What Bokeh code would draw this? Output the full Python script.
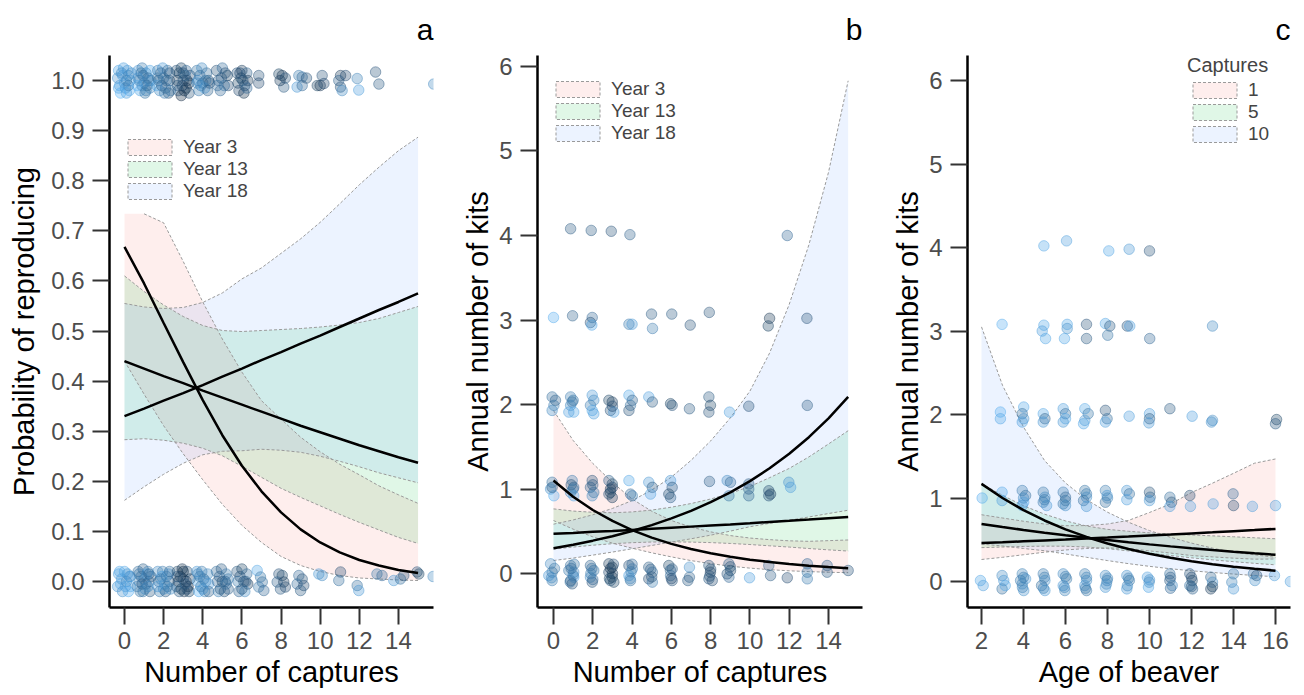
from bokeh.plotting import figure
from bokeh.models import (Range1d, FixedTicker, PrintfTickFormatter, Legend,
                          LegendItem, ColumnDataSource)
from bokeh.layouts import row
from bokeh.embed import file_html
from bokeh.resources import INLINE

FONT = "Liberation Sans"
PINK, GREEN, BLUE = "#F8766D", "#00BA38", "#619CFF"

# ---------------- panel a : probability of reproducing ----------------
a_x = [0, 1, 2, 3, 4, 5, 6, 7, 8, 9, 10, 11, 12, 13, 14, 15]
a_fit_y3 = [0.668, 0.595, 0.516, 0.438, 0.362, 0.292, 0.231, 0.180, 0.138, 0.104, 0.078, 0.058, 0.043, 0.032, 0.023, 0.017]
a_lo_y3 = [0.440, 0.374, 0.311, 0.255, 0.203, 0.154, 0.112, 0.078, 0.050, 0.032, 0.020, 0.012, 0.007, 0.005, 0.003, 0.002]
a_hi_y3 = [0.734, 0.734, 0.716, 0.639, 0.558, 0.484, 0.418, 0.361, 0.324, 0.288, 0.259, 0.234, 0.213, 0.191, 0.173, 0.156]
a_fit_y13 = [0.440, 0.425, 0.410, 0.396, 0.381, 0.367, 0.353, 0.339, 0.325, 0.311, 0.298, 0.285, 0.272, 0.260, 0.248, 0.237]
a_lo_y13 = [0.283, 0.285, 0.282, 0.276, 0.266, 0.251, 0.230, 0.208, 0.186, 0.168, 0.151, 0.134, 0.118, 0.103, 0.088, 0.076]
a_hi_y13 = [0.610, 0.579, 0.552, 0.529, 0.511, 0.501, 0.499, 0.501, 0.503, 0.505, 0.508, 0.512, 0.517, 0.525, 0.537, 0.549]
a_fit_y18 = [0.330, 0.345, 0.361, 0.376, 0.392, 0.409, 0.425, 0.442, 0.458, 0.475, 0.491, 0.508, 0.525, 0.542, 0.558, 0.575]
a_lo_y18 = [0.162, 0.189, 0.214, 0.236, 0.253, 0.260, 0.261, 0.264, 0.262, 0.258, 0.250, 0.240, 0.229, 0.217, 0.207, 0.197]
a_hi_y18 = [0.555, 0.548, 0.545, 0.547, 0.557, 0.576, 0.604, 0.626, 0.655, 0.684, 0.717, 0.754, 0.792, 0.827, 0.860, 0.887]
a_labels = ["Year 3", "Year 13", "Year 18"]

# observed points (captures, reproduced, colour shade 0=dark .. 1=light)
a_points = [
    (-0.30, 1.020, 0.90), (-0.10, 1.010, 0.95), (0.15, 1.020, 0.80), (0.30, 1.000, 0.90), (-0.25, 0.990, 0.85),
    (0.05, 0.985, 0.70), (0.25, 0.980, 0.95), (-0.20, 0.975, 1.00), (0.10, 1.000, 0.60), (-0.05, 1.025, 0.85),
    (0.20, 0.990, 0.50), (-0.35, 1.005, 0.75), (-0.15, 1.015, 0.70), (0.00, 0.995, 0.80), (0.20, 1.010, 0.65),
    (-0.30, 0.985, 0.90), (0.10, 0.975, 0.85), (0.35, 1.015, 0.75),
    (0.70, 1.020, 0.80), (0.90, 1.025, 0.60), (1.10, 1.015, 0.70), (1.30, 1.020, 0.90), (0.75, 1.000, 0.50),
    (1.00, 0.995, 0.65), (1.25, 1.000, 0.85), (0.80, 0.980, 0.90), (1.05, 0.975, 0.55), (1.30, 0.985, 0.70),
    (0.95, 1.010, 0.45), (1.15, 0.990, 0.35), (0.65, 0.990, 1.00), (0.85, 1.015, 0.55), (1.20, 1.005, 0.50),
    (0.90, 0.990, 0.70), (1.10, 0.980, 0.60), (1.35, 1.000, 0.65), (0.70, 1.005, 0.75),
    (1.70, 1.020, 0.60), (1.95, 1.025, 0.80), (2.20, 1.020, 0.50), (1.75, 1.000, 0.40), (2.00, 1.005, 0.55),
    (2.30, 1.000, 0.35), (1.80, 0.980, 0.70), (2.10, 0.985, 0.45), (2.35, 0.980, 0.60), (1.65, 0.990, 0.90),
    (2.25, 0.975, 0.30), (1.85, 1.015, 0.45), (2.15, 1.000, 0.50), (1.90, 0.990, 0.40), (2.05, 0.975, 0.60),
    (2.30, 1.015, 0.35), (1.70, 1.005, 0.55),
    (2.65, 1.020, 0.30), (2.90, 1.025, 0.20), (3.15, 1.020, 0.45), (3.35, 1.010, 0.25), (2.70, 1.000, 0.15),
    (3.00, 1.000, 0.35), (3.30, 0.995, 0.10), (2.75, 0.980, 0.40), (3.05, 0.980, 0.05), (3.30, 0.975, 0.30),
    (2.90, 0.970, 0.00), (3.10, 1.010, 0.55), (2.80, 1.015, 0.20), (3.20, 1.000, 0.15), (2.95, 0.990, 0.25),
    (3.15, 0.985, 0.10), (2.70, 0.990, 0.30), (3.00, 1.015, 0.30),
    (3.70, 1.020, 0.55), (3.95, 1.025, 0.70), (4.20, 1.015, 0.50), (3.75, 1.000, 0.80), (4.00, 0.995, 0.45),
    (4.30, 1.000, 0.35), (3.80, 0.980, 0.60), (4.10, 0.985, 0.90), (4.35, 0.995, 0.25), (3.85, 1.010, 0.50),
    (4.15, 1.000, 0.55), (3.90, 0.990, 0.65), (4.25, 0.980, 0.40), (3.70, 0.995, 0.70),
    (4.70, 1.020, 0.30), (5.00, 1.025, 0.50), (5.25, 1.010, 0.20), (4.80, 1.000, 0.40), (5.10, 0.990, 0.60),
    (5.30, 0.990, 0.25), (4.90, 0.980, 0.45), (4.95, 1.005, 0.35), (5.15, 1.015, 0.30), (4.75, 0.990, 0.50),
    (5.75, 1.015, 0.30), (6.00, 1.020, 0.15), (6.25, 1.015, 0.40), (5.80, 0.995, 0.20), (6.05, 1.000, 0.35),
    (6.30, 1.000, 0.10), (5.85, 0.980, 0.25), (6.10, 0.975, 0.05), (6.25, 0.985, 0.45), (5.95, 1.005, 0.20),
    (6.15, 0.990, 0.30), (5.90, 1.015, 0.25),
    (6.86, 1.010, 0.30), (6.86, 0.995, 0.25),
    (7.89, 1.013, 0.20), (8.06, 1.010, 0.10), (8.22, 1.005, 0.30), (8.14, 0.987, 0.35), (7.95, 1.000, 0.15),
    (8.91, 1.010, 0.60), (9.08, 1.007, 0.50), (8.82, 0.987, 0.80), (9.08, 0.990, 0.45), (9.30, 1.005, 0.30),
    (10.10, 1.010, 0.30), (9.85, 0.990, 0.20), (10.00, 0.990, 0.10), (10.19, 0.994, 0.25),
    (11.04, 1.010, 0.15), (10.95, 1.000, 0.40), (11.04, 0.987, 0.30), (11.12, 0.980, 0.70), (11.30, 1.010, 0.25),
    (11.89, 1.004, 0.65), (11.97, 0.981, 0.85), (12.83, 1.017, 0.30), (13.00, 0.993, 0.35), (15.80, 0.993, 0.70),
    (-0.30, 0.015, 0.85), (0.00, 0.020, 0.90), (0.25, 0.010, 0.70), (-0.20, -0.005, 1.00), (0.10, 0.000, 0.60),
    (0.30, -0.010, 0.90), (-0.10, -0.020, 0.75), (0.20, -0.020, 0.95), (-0.35, -0.010, 0.80),
    (-0.15, 0.005, 0.80), (0.15, 0.015, 0.75), (0.05, -0.010, 0.85), (-0.25, 0.020, 0.90), (0.30, 0.010, 0.85),
    (0.70, 0.020, 0.50), (0.95, 0.025, 0.40), (1.20, 0.020, 0.60), (1.35, 0.010, 0.30), (0.75, 0.000, 0.65),
    (1.00, 0.005, 0.70), (1.25, 0.000, 0.45), (0.80, -0.020, 0.55), (1.05, -0.015, 0.80), (1.30, -0.020, 0.35),
    (0.90, -0.005, 0.25), (1.15, 0.015, 0.90), (0.65, -0.010, 0.60), (0.85, 0.010, 0.45), (1.10, -0.005, 0.50),
    (0.95, -0.020, 0.55), (1.25, 0.015, 0.40), (0.75, 0.015, 0.60), (1.20, -0.010, 0.70),
    (1.70, 0.020, 0.70), (1.95, 0.020, 0.60), (2.25, 0.015, 0.80), (1.75, 0.000, 0.50), (2.05, -0.005, 0.90),
    (2.30, 0.000, 0.40), (1.80, -0.020, 0.60), (2.10, -0.020, 0.35), (2.35, -0.015, 0.75), (1.90, 0.010, 0.85),
    (2.20, -0.010, 0.55), (1.85, 0.005, 0.55), (2.15, 0.010, 0.60), (2.00, -0.015, 0.65), (2.30, 0.020, 0.50),
    (1.70, -0.010, 0.80),
    (2.70, 0.020, 0.20), (2.95, 0.025, 0.10), (3.20, 0.020, 0.30), (3.35, 0.005, 0.15), (2.75, 0.000, 0.05),
    (3.00, 0.005, 0.25), (3.25, -0.010, 0.00), (2.80, -0.020, 0.35), (3.05, -0.020, 0.10), (3.30, -0.020, 0.20),
    (2.65, -0.010, 0.40), (3.10, -0.005, 0.45), (2.85, 0.010, 0.10), (3.15, 0.000, 0.15), (2.90, -0.015, 0.20),
    (3.20, -0.015, 0.25), (3.00, 0.020, 0.05), (2.70, 0.010, 0.30),
    (3.70, 0.020, 0.80), (3.95, 0.020, 0.60), (4.25, 0.015, 0.70), (3.75, 0.000, 0.90), (4.05, 0.005, 0.50),
    (4.30, -0.005, 0.85), (3.80, -0.020, 1.00), (4.10, -0.020, 0.65), (4.30, -0.020, 0.40), (3.90, -0.010, 0.55),
    (3.85, 0.010, 0.60), (4.15, 0.000, 0.70), (4.00, -0.015, 0.75), (3.75, 0.015, 0.65),
    (4.70, 0.020, 0.50), (4.95, 0.025, 0.35), (5.20, 0.015, 0.60), (4.75, 0.000, 0.45), (5.00, 0.000, 0.20),
    (5.30, 0.005, 0.55), (4.80, -0.020, 0.65), (5.10, -0.020, 0.30), (5.30, -0.015, 0.40), (4.85, 0.010, 0.40),
    (5.15, 0.000, 0.45), (4.90, -0.015, 0.35), (5.20, -0.005, 0.50),
    (5.75, 0.020, 0.35), (6.00, 0.025, 0.20), (6.25, 0.015, 0.50), (5.80, 0.000, 0.60), (6.10, 0.000, 0.30),
    (6.30, -0.005, 0.15), (5.85, -0.020, 0.45), (6.15, -0.020, 0.70), (5.90, 0.010, 0.30), (6.20, 0.000, 0.40),
    (6.00, -0.015, 0.35),
    (6.78, 0.022, 0.90), (6.95, 0.009, 0.55), (7.04, -0.001, 0.50), (6.86, -0.011, 0.60), (7.12, -0.018, 0.45),
    (7.89, 0.015, 0.30), (8.06, 0.012, 0.20), (7.80, -0.001, 0.40), (8.14, -0.001, 0.15), (7.97, -0.015, 0.35),
    (8.22, -0.011, 0.25),
    (8.91, 0.012, 0.45), (9.08, 0.005, 0.30), (8.82, -0.005, 0.50), (9.16, -0.008, 0.25), (9.00, -0.018, 0.35),
    (9.93, 0.015, 0.80), (10.10, 0.012, 0.70), (11.04, 0.019, 0.25), (10.95, 0.002, 0.50),
    (11.89, -0.008, 0.50), (11.97, -0.018, 0.80), (12.90, 0.015, 0.55), (13.16, 0.012, 0.45),
    (13.76, 0.002, 0.80), (14.10, 0.005, 0.50), (14.27, 0.012, 0.30), (14.95, 0.019, 0.30), (15.04, 0.015, 0.20),
    (15.77, 0.010, 0.70),
]

# ---------------- panel b : annual number of kits vs captures ----------------
b_x = [0, 1, 2, 3, 4, 5, 6, 7, 8, 9, 10, 11, 12, 13, 14, 15]
b_fit_y3 = [1.100, 0.909, 0.752, 0.622, 0.514, 0.425, 0.351, 0.290, 0.240, 0.198, 0.164, 0.136, 0.112, 0.093, 0.077, 0.063]
b_lo_y3 = [0.627, 0.525, 0.434, 0.359, 0.300, 0.245, 0.197, 0.153, 0.117, 0.087, 0.064, 0.046, 0.032, 0.023, 0.015, 0.010]
b_hi_y3 = [1.929, 1.575, 1.303, 1.078, 0.882, 0.737, 0.627, 0.550, 0.493, 0.449, 0.420, 0.401, 0.387, 0.381, 0.389, 0.397]
b_fit_y13 = [0.470, 0.481, 0.493, 0.504, 0.516, 0.529, 0.542, 0.555, 0.568, 0.581, 0.595, 0.610, 0.624, 0.639, 0.655, 0.670]
b_lo_y13 = [0.289, 0.313, 0.335, 0.353, 0.365, 0.373, 0.374, 0.372, 0.366, 0.356, 0.343, 0.328, 0.313, 0.296, 0.280, 0.266]
b_hi_y13 = [0.765, 0.739, 0.725, 0.719, 0.729, 0.751, 0.785, 0.828, 0.882, 0.948, 1.031, 1.134, 1.244, 1.380, 1.533, 1.690]
b_fit_y18 = [0.300, 0.341, 0.389, 0.442, 0.503, 0.573, 0.652, 0.742, 0.844, 0.961, 1.094, 1.245, 1.417, 1.613, 1.836, 2.090]
b_lo_y18 = [0.154, 0.183, 0.218, 0.254, 0.293, 0.332, 0.372, 0.411, 0.454, 0.502, 0.554, 0.594, 0.630, 0.669, 0.710, 0.749]
b_hi_y18 = [0.584, 0.634, 0.695, 0.770, 0.863, 0.988, 1.141, 1.339, 1.569, 1.841, 2.159, 2.609, 3.185, 3.889, 4.748, 5.831]
b_labels = ["Year 3", "Year 13", "Year 18"]

b_points = [
    (0.87, 4.08, 0.35), (1.92, 4.06, 0.35), (2.94, 4.05, 0.30), (3.89, 4.01, 0.40), (11.90, 4.00, 0.45),
    (0.00, 3.03, 0.95), (0.97, 3.05, 0.40), (1.97, 3.03, 0.45), (1.88, 2.97, 0.30), (1.95, 2.94, 0.90),
    (3.84, 2.95, 0.60), (4.00, 2.95, 0.80), (4.99, 3.07, 0.35), (5.04, 2.90, 0.60), (6.02, 3.07, 0.35),
    (6.96, 2.94, 0.30), (7.93, 3.09, 0.30), (11.00, 3.02, 0.10), (10.93, 2.93, 0.20), (12.90, 3.02, 0.30),
    (-0.07, 2.09, 0.50), (0.02, 1.99, 0.60), (-0.07, 1.93, 0.70), (0.10, 2.05, 0.40),
    (0.87, 2.09, 0.60), (0.95, 2.03, 0.50), (0.87, 1.99, 0.70), (1.03, 1.91, 0.90), (0.78, 1.91, 0.85),
    (1.00, 2.05, 0.55),
    (1.97, 2.11, 0.80), (2.05, 2.05, 0.70), (1.88, 1.99, 0.60), (1.97, 1.93, 0.90), (2.05, 1.89, 0.85),
    (2.82, 2.05, 0.20), (2.99, 2.03, 0.15), (2.90, 1.93, 0.30), (3.07, 1.91, 0.85), (3.00, 1.98, 0.25),
    (3.84, 2.11, 0.90), (4.01, 2.05, 0.40), (3.92, 1.99, 0.50), (3.84, 1.93, 0.30),
    (4.85, 2.09, 0.85), (5.03, 2.03, 0.35), (5.96, 2.01, 0.20), (6.04, 1.99, 0.30), (6.92, 1.95, 0.35),
    (7.91, 2.09, 0.35), (7.99, 1.99, 0.20), (7.91, 1.91, 0.30), (8.96, 1.91, 0.85), (9.94, 1.98, 0.30),
    (12.92, 1.99, 0.35),
    (-0.07, 1.08, 0.50), (-0.15, 1.00, 0.75), (0.02, 0.92, 0.95), (-0.07, 1.02, 0.35),
    (0.95, 1.10, 0.60), (1.03, 1.02, 0.45), (0.87, 0.96, 0.70), (1.03, 0.92, 0.90), (0.90, 1.05, 0.30),
    (1.00, 1.00, 0.55),
    (1.97, 1.10, 0.30), (1.88, 1.02, 0.40), (2.05, 0.96, 0.50), (1.97, 0.92, 0.70), (2.00, 1.05, 0.35),
    (2.82, 1.10, 0.40), (2.99, 1.06, 0.20), (2.90, 1.00, 0.10), (2.82, 0.94, 0.30), (2.99, 0.90, 0.15),
    (3.00, 1.02, 0.25), (2.90, 0.96, 0.20),
    (3.84, 1.10, 0.90), (3.92, 0.94, 0.45), (4.01, 0.92, 0.60),
    (4.85, 1.08, 0.80), (5.03, 1.02, 0.35), (4.94, 0.94, 0.85),
    (5.96, 1.10, 0.80), (6.04, 1.02, 0.30), (5.87, 0.94, 0.20), (5.96, 0.90, 0.35),
    (7.94, 1.09, 0.35), (8.84, 1.10, 0.70), (9.01, 1.08, 0.45), (8.93, 0.92, 0.55),
    (9.94, 1.06, 0.35), (9.94, 1.00, 0.40), (9.94, 0.92, 0.45),
    (10.96, 0.98, 0.25), (11.05, 0.94, 0.15), (10.96, 0.92, 0.30), (11.98, 1.08, 0.75), (12.07, 1.02, 0.85),
    (-0.15, 0.115, 0.70), (-0.07, 0.016, 0.50), (-0.07, -0.083, 0.60), (-0.24, -0.024, 0.80),
    (0.05, 0.060, 0.55), (-0.10, -0.050, 0.70),
    (0.87, 0.095, 0.50), (1.03, 0.016, 0.70), (0.87, -0.083, 0.40), (1.03, -0.043, 0.85), (0.78, 0.036, 0.60),
    (0.95, -0.122, 0.30), (0.90, 0.060, 0.45), (1.00, -0.020, 0.60), (0.85, -0.100, 0.50), (1.05, 0.110, 0.55),
    (1.88, 0.095, 0.40), (2.05, 0.036, 0.55), (1.88, -0.043, 0.70), (1.97, -0.102, 0.30),
    (1.95, 0.060, 0.50), (2.00, -0.070, 0.45), (1.90, 0.000, 0.60),
    (2.82, 0.115, 0.15), (2.99, 0.075, 0.05), (2.82, 0.016, 0.25), (2.99, -0.043, 0.10), (2.90, -0.083, 0.35),
    (3.07, -0.102, 0.20), (2.90, 0.060, 0.10), (3.00, 0.000, 0.15), (2.85, -0.060, 0.20), (3.05, 0.110, 0.30),
    (3.84, 0.095, 0.30), (4.01, 0.055, 0.60), (3.84, -0.024, 0.85), (3.92, -0.083, 0.50),
    (3.95, 0.020, 0.60), (3.90, -0.060, 0.70), (4.00, 0.110, 0.45),
    (4.85, 0.075, 0.35), (5.03, 0.016, 0.50), (4.85, -0.063, 0.25), (5.03, -0.102, 0.60),
    (4.95, 0.050, 0.40), (5.00, -0.040, 0.30),
    (5.87, 0.095, 0.20), (6.04, 0.055, 0.35), (5.96, -0.024, 0.50), (6.04, -0.083, 0.30),
    (5.95, 0.040, 0.40), (6.00, -0.060, 0.25),
    (6.92, 0.075, 0.75), (6.92, -0.043, 0.40), (6.84, -0.083, 0.35),
    (7.91, 0.095, 0.30), (7.99, 0.016, 0.15), (7.91, -0.063, 0.35), (8.08, -0.083, 0.25),
    (8.00, 0.050, 0.25), (7.95, -0.030, 0.30),
    (8.93, 0.115, 0.35), (9.01, 0.036, 0.20), (8.93, -0.043, 0.45), (8.84, -0.004, 0.30), (9.00, 0.080, 0.30),
    (9.98, -0.050, 0.85), (10.96, 0.095, 0.40), (11.05, -0.024, 0.35), (11.90, -0.050, 0.25),
    (12.92, 0.115, 0.45), (12.92, 0.016, 0.55), (12.92, -0.063, 0.60),
    (13.93, 0.095, 0.40), (13.93, 0.016, 0.35), (15.00, 0.036, 0.30),
]

# ---------------- panel c : annual number of kits vs age ----------------
c_x = [2, 3, 4, 5, 6, 7, 8, 9, 10, 11, 12, 13, 14, 15, 16]
c_fit_1 = [0.460, 0.470, 0.481, 0.492, 0.503, 0.515, 0.526, 0.538, 0.551, 0.563, 0.576, 0.589, 0.603, 0.616, 0.630]
c_lo_1 = [0.264, 0.290, 0.321, 0.351, 0.378, 0.396, 0.402, 0.396, 0.367, 0.341, 0.311, 0.295, 0.280, 0.268, 0.270]
c_hi_1 = [0.800, 0.761, 0.722, 0.689, 0.669, 0.670, 0.689, 0.732, 0.827, 0.929, 1.066, 1.178, 1.296, 1.417, 1.468]
c_fit_5 = [0.690, 0.653, 0.618, 0.585, 0.554, 0.524, 0.496, 0.470, 0.445, 0.421, 0.398, 0.377, 0.357, 0.338, 0.320]
c_lo_5 = [0.406, 0.413, 0.420, 0.424, 0.423, 0.413, 0.394, 0.367, 0.340, 0.312, 0.284, 0.260, 0.238, 0.218, 0.200]
c_hi_5 = [1.173, 1.032, 0.908, 0.807, 0.726, 0.665, 0.625, 0.602, 0.583, 0.568, 0.557, 0.547, 0.536, 0.524, 0.512]
c_fit_10 = [1.170, 1.000, 0.855, 0.731, 0.624, 0.534, 0.456, 0.390, 0.333, 0.285, 0.243, 0.208, 0.178, 0.152, 0.130]
c_lo_10 = [0.448, 0.426, 0.396, 0.369, 0.330, 0.290, 0.251, 0.214, 0.182, 0.153, 0.129, 0.108, 0.090, 0.072, 0.058]
c_hi_10 = [3.050, 2.350, 1.850, 1.450, 1.180, 0.980, 0.830, 0.710, 0.610, 0.530, 0.460, 0.400, 0.350, 0.320, 0.290]
c_labels = ["1", "5", "10"]

c_points = [
    (4.97, 4.02, 0.90), (6.05, 4.08, 0.85), (8.06, 3.96, 0.90), (9.03, 3.98, 0.80), (10.00, 3.96, 0.30),
    (2.98, 3.08, 0.95), (4.97, 3.07, 0.90), (4.89, 3.00, 0.85), (5.05, 2.91, 0.90), (6.08, 3.08, 0.90),
    (6.08, 3.03, 0.75), (5.95, 2.91, 0.90), (7.00, 3.08, 0.30), (7.00, 2.91, 0.35), (7.90, 3.09, 0.90),
    (8.11, 3.06, 0.35), (8.01, 2.95, 0.55), (8.94, 3.06, 0.30), (9.06, 3.06, 0.85), (10.01, 2.91, 0.45),
    (13.00, 3.06, 0.70),
    (2.90, 2.03, 0.95), (2.90, 1.95, 0.90),
    (4.01, 2.09, 0.90), (3.94, 2.01, 0.50), (4.01, 1.95, 0.75), (3.94, 1.91, 0.85),
    (4.94, 2.01, 0.90), (5.02, 1.95, 0.40), (4.94, 1.91, 0.80),
    (5.89, 2.07, 0.85), (6.00, 2.01, 0.50), (6.00, 1.95, 0.90), (5.89, 1.91, 0.80),
    (6.92, 2.07, 0.90), (7.08, 2.01, 0.55), (6.92, 1.93, 0.80), (6.86, 1.89, 0.90),
    (7.90, 2.05, 0.30), (7.98, 1.95, 0.50), (7.90, 1.91, 0.85), (9.03, 1.98, 0.85),
    (10.00, 2.01, 0.85), (10.00, 1.95, 0.35), (9.97, 1.90, 0.80),
    (10.97, 2.07, 0.35), (12.03, 1.98, 0.85), (13.00, 1.93, 0.70), (12.95, 1.91, 0.75),
    (16.05, 1.94, 0.20), (16.00, 1.89, 0.35),
    (2.03, 1.00, 0.95), (2.98, 1.07, 0.90), (2.98, 0.97, 0.85),
    (3.94, 1.09, 0.60), (4.10, 1.03, 0.50), (4.01, 0.95, 0.90), (3.94, 0.91, 0.80), (4.00, 1.00, 0.70),
    (4.94, 1.07, 0.55), (5.02, 1.01, 0.70), (4.94, 0.95, 0.60), (5.10, 0.91, 0.80), (5.00, 0.98, 0.60),
    (5.89, 1.07, 0.60), (6.00, 1.01, 0.45), (5.89, 0.93, 0.55), (6.00, 0.91, 0.75), (6.00, 0.97, 0.55),
    (6.92, 1.09, 0.55), (7.00, 1.01, 0.75), (6.86, 0.97, 0.50), (7.00, 0.90, 0.80), (7.00, 1.05, 0.60),
    (7.90, 1.09, 0.60), (7.98, 1.03, 0.80), (7.90, 0.95, 0.50), (8.00, 1.00, 0.65),
    (8.92, 1.09, 0.80), (9.04, 1.05, 0.50), (8.92, 0.98, 0.85),
    (10.00, 1.07, 0.30), (10.03, 1.01, 0.40), (10.00, 0.97, 0.80),
    (10.97, 1.01, 0.50), (11.05, 0.95, 0.30), (10.97, 0.90, 0.85),
    (11.92, 1.03, 0.25), (11.95, 0.90, 0.85), (13.03, 0.93, 0.85),
    (13.98, 1.05, 0.45), (14.00, 0.91, 0.25), (14.90, 0.90, 0.85), (16.00, 0.91, 0.85),
    (1.95, 0.012, 0.90), (2.08, -0.048, 0.85),
    (2.98, 0.072, 0.70), (3.06, 0.012, 0.80), (2.98, -0.088, 0.50), (3.13, -0.048, 0.90),
    (3.94, 0.092, 0.65), (4.10, 0.032, 0.80), (3.94, -0.028, 0.70), (4.01, -0.108, 0.75), (3.86, 0.012, 0.60),
    (4.00, 0.050, 0.60), (3.95, -0.070, 0.65),
    (4.94, 0.092, 0.60), (5.02, 0.012, 0.75), (4.86, -0.048, 0.50), (5.02, -0.108, 0.80),
    (5.00, 0.050, 0.60), (4.95, -0.080, 0.65),
    (5.89, 0.092, 0.70), (6.05, 0.032, 0.55), (5.89, -0.048, 0.80), (5.97, -0.108, 0.65),
    (6.00, 0.060, 0.60), (5.95, -0.070, 0.70),
    (6.92, 0.092, 0.60), (7.00, 0.012, 0.70), (6.92, -0.048, 0.80), (7.00, -0.108, 0.55),
    (7.00, 0.050, 0.65), (6.95, -0.080, 0.60),
    (7.90, 0.072, 0.70), (7.98, 0.012, 0.60), (7.90, -0.068, 0.80), (8.00, 0.040, 0.65), (7.95, -0.030, 0.70),
    (8.92, 0.072, 0.75), (9.04, 0.012, 0.55), (8.92, -0.088, 0.80), (9.00, 0.040, 0.60), (8.95, -0.050, 0.70),
    (9.90, 0.052, 0.85), (9.98, -0.008, 0.70), (9.95, -0.068, 0.90), (10.00, 0.020, 0.75),
    (10.97, 0.092, 0.50), (10.97, 0.012, 0.35), (11.08, -0.048, 0.70), (11.00, 0.050, 0.40), (11.00, -0.080, 0.45),
    (11.92, 0.092, 0.30), (12.03, 0.012, 0.20), (11.92, -0.048, 0.55), (12.05, -0.088, 0.40),
    (12.00, 0.050, 0.25), (12.00, -0.060, 0.35),
    (12.92, 0.052, 0.40), (13.00, -0.008, 0.70), (12.92, -0.088, 0.15), (13.00, -0.060, 0.20),
    (14.00, 0.092, 0.55), (13.92, -0.008, 0.65), (14.00, -0.088, 0.80),
    (14.95, 0.092, 0.50), (15.10, 0.072, 0.30), (15.02, 0.012, 0.75),
    (15.95, 0.072, 0.85), (16.71, 0.000, 0.85),
]


def shade_color(s):
    dark = (0x13, 0x2B, 0x43)
    light = (0x56, 0xB1, 0xF7)
    rgb = [round(d + (l - d) * s) for d, l in zip(dark, light)]
    return "#%02x%02x%02x" % tuple(rgb)


def make_panel(xs, fits, bands, labels, points, xr, yr, xticks, yticks, yfmt,
               xlabel, ylabel, letter, width, left, right, ylab_standoff,
               leg_loc, leg_title=None):
    p = figure(width=width, height=695, x_range=Range1d(*xr), y_range=Range1d(*yr),
               output_backend="svg", toolbar_location=None,
               min_border_left=left, min_border_right=right,
               min_border_top=55, min_border_bottom=88)
    p.xgrid.visible = False
    p.ygrid.visible = False
    p.outline_line_color = None
    p.background_fill_color = "white"
    p.border_fill_color = "white"

    p.title.text = letter
    p.title.align = "right"
    p.title.text_font = FONT
    p.title.text_font_size = "30px"
    p.title.text_font_style = "normal"
    p.title.text_color = "black"
    p.title.standoff = 20

    for ax in (p.xaxis[0], p.yaxis[0]):
        ax.axis_line_width = 2.5
        ax.axis_line_color = "black"
        ax.major_tick_line_width = 2
        ax.major_tick_line_color = "#333333"
        ax.major_tick_out = 17
        ax.major_tick_in = 0
        ax.minor_tick_line_color = None
        ax.major_label_text_font = FONT
        ax.major_label_text_font_size = "24px"
        ax.major_label_text_color = "#4d4d4d"
        ax.axis_label_text_font = FONT
        ax.axis_label_text_font_size = "29px"
        ax.axis_label_text_font_style = "normal"
        ax.axis_label_text_color = "black"
    p.xaxis.ticker = FixedTicker(ticks=xticks)
    p.yaxis.ticker = FixedTicker(ticks=yticks)
    if yfmt:
        p.yaxis.formatter = PrintfTickFormatter(format=yfmt)
    p.xaxis.axis_label = xlabel
    p.yaxis.axis_label = ylabel
    p.xaxis.major_label_standoff = 7
    p.yaxis.major_label_standoff = 8
    p.xaxis.axis_label_standoff = 4
    p.yaxis.axis_label_standoff = ylab_standoff

    colors = [PINK, GREEN, BLUE]
    # confidence bands
    for (lo, hi), col in zip(bands, colors):
        p.varea(x=xs, y1=lo, y2=hi, fill_color=col, fill_alpha=0.12)
    for (lo, hi), col in zip(bands, colors):
        start = 0
        while start + 1 < len(hi) and hi[start + 1] == hi[0]:
            start += 1
        p.line(xs[start:], hi[start:], line_color="#9a9a9a", line_width=1, line_dash="3 2")
        p.line(xs, lo, line_color="#9a9a9a", line_width=1, line_dash="3 2")

    # observed points
    src = ColumnDataSource(dict(
        x=[pt[0] for pt in points],
        y=[pt[1] for pt in points],
        c=[shade_color(pt[2]) for pt in points],
    ))
    p.scatter("x", "y", source=src, size=10.5, fill_color="c", fill_alpha=0.32,
              line_color="c", line_alpha=0.45, line_width=1)

    # fitted lines
    for f in fits:
        p.line(xs, f, line_color="black", line_width=2.5)

    # legend: proxy glyphs placed outside the visible ranges
    px = [xr[0] - 10 * (xr[1] - xr[0])]
    py = [yr[0] - 10 * (yr[1] - yr[0])]
    items = []
    for lab, col in zip(labels, colors):
        r = p.rect(x=px, y=py, width=1, height=1, fill_color=col, fill_alpha=0.12,
                   line_color="#9a9a9a", line_dash="3 2", line_width=1)
        items.append(LegendItem(label=lab, renderers=[r]))
    leg = Legend(items=items, location=leg_loc, orientation="vertical",
                 glyph_width=55, glyph_height=20, spacing=0, padding=0, margin=0,
                 label_standoff=6, label_height=20,
                 label_text_font=FONT, label_text_font_size="19px",
                 background_fill_alpha=0, border_line_alpha=0)
    if leg_title:
        leg.title = leg_title
        leg.title_text_font = FONT
        leg.title_text_font_size = "20px"
        leg.title_text_font_style = "normal"
        leg.title_standoff = 2
    p.add_layout(leg)
    return p


pa = make_panel(a_x, [a_fit_y3, a_fit_y13, a_fit_y18],
                [(a_lo_y3, a_hi_y3), (a_lo_y13, a_hi_y13), (a_lo_y18, a_hi_y18)],
                a_labels, a_points, (-0.766, 15.79), (-0.0519, 1.050),
                list(range(0, 15, 2)), [i / 10 for i in range(11)], "%.1f",
                "Number of captures", "Probability of reproducing", "a",
                437, 109, 4, 8, (13, 405))
pb = make_panel(b_x, [b_fit_y3, b_fit_y13, b_fit_y18],
                [(b_lo_y3, b_hi_y3), (b_lo_y13, b_hi_y13), (b_lo_y18, b_hi_y18)],
                b_labels, b_points, (-0.815, 15.73), (-0.402, 6.13),
                list(range(0, 15, 2)), list(range(7)), None,
                "Number of captures", "Annual number of kits", "b",
                430, 100, 5, 2, (13, 463))
pc = make_panel(c_x, [c_fit_1, c_fit_5, c_fit_10],
                [(c_lo_1, c_hi_1), (c_lo_5, c_hi_5), (c_lo_10, c_hi_10)],
                c_labels, c_points, (1.333, 16.714), (-0.311, 6.30),
                list(range(2, 17, 2)), list(range(7)), None,
                "Age of beaver", "Annual number of kits", "c",
                437, 100, 14, 2, (220, 462), leg_title="Captures")

layout = row(pa, pb, pc)
open("out.html", "w").write(file_html(layout, INLINE))
